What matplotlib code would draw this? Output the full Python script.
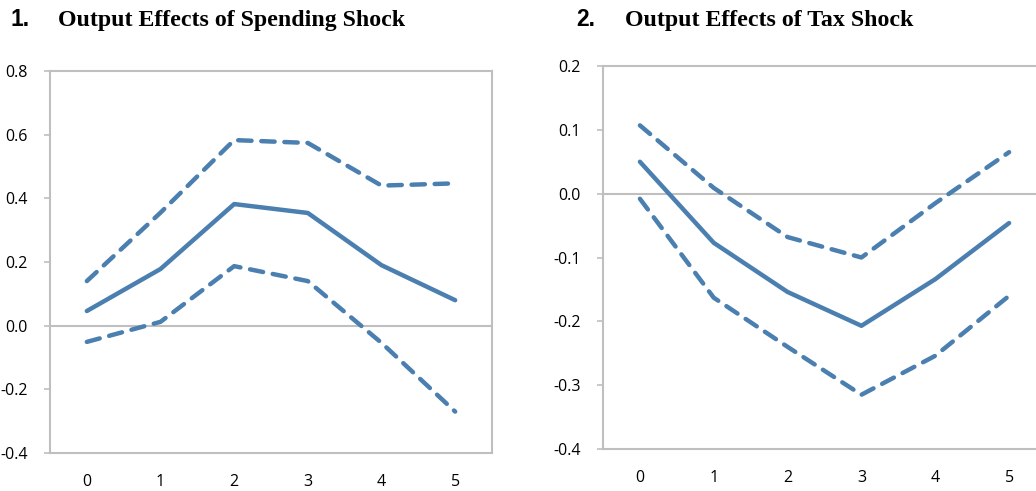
import matplotlib.pyplot as plt

# ---------------------------------------------------
# Daten (Impulsantworten, Punktschätzung und Bänder)
# ---------------------------------------------------
horizon = [0, 1, 2, 3, 4, 5]

spend_mid = [0.046, 0.178, 0.382, 0.354, 0.190, 0.080]
spend_upper = [0.140, 0.355, 0.583, 0.574, 0.440, 0.447]
spend_lower = [-0.051, 0.012, 0.187, 0.140, -0.054, -0.270]

tax_mid = [0.050, -0.077, -0.154, -0.207, -0.134, -0.046]
tax_upper = [0.107, 0.009, -0.068, -0.100, -0.015, 0.065]
tax_lower = [-0.008, -0.163, -0.240, -0.315, -0.254, -0.160]

spend_ticks = [-0.4, -0.2, 0.0, 0.2, 0.4, 0.6, 0.8]
tax_ticks = [-0.4, -0.3, -0.2, -0.1, 0.0, 0.1, 0.2]

titles = ["Output Effects of Spending Shock", "Output Effects of Tax Shock"]
numbers = ["1.", "2."]

LINE_COLOR = "#4a7fb0"
GRAY = "#bfbfbf"

plt.rcParams["font.family"] = ["Open Sans", "DejaVu Sans"]

fig = plt.figure(figsize=(10.36, 4.91), dpi=100)
W, H = 1036, 491


def panel(left_px, right_px, top_px, bottom_px, mid, upper, lower, ticks):
    ax = fig.add_axes([left_px / W, 1 - bottom_px / H,
                       (right_px - left_px) / W, (bottom_px - top_px) / H])
    ax.plot(horizon, mid, color=LINE_COLOR, lw=3.2, solid_capstyle="round")
    for band in (upper, lower):
        ax.plot(horizon, band, color=LINE_COLOR, lw=3.2,
                dashes=(3.0, 2.2), dash_capstyle="round")
    ax.axhline(0, color=GRAY, lw=1.5, zorder=0)
    ax.set_xlim(-0.5, 5.5)
    ax.set_ylim(ticks[0], ticks[-1])
    ax.set_xticks(horizon)
    ax.set_yticks(ticks)
    ax.set_yticklabels([f"{t:.1f}" for t in ticks])
    for s in ax.spines.values():
        s.set_color(GRAY)
        s.set_linewidth(1.5)
    ax.tick_params(axis="y", direction="out", length=4, width=1.2,
                   color=GRAY, labelsize=11.5, pad=12)
    ax.tick_params(axis="x", length=0, labelsize=11.5, pad=15)
    return ax


panel(50, 492, 71, 453, spend_mid, spend_upper, spend_lower, spend_ticks)
panel(603, 1046, 66, 449, tax_mid, tax_upper, tax_lower, tax_ticks)

# Titel: Nummer in Sans, Text in Serif, gemeinsame Grundlinie
for x_num, x_txt, num, title in zip([10, 576], [58, 625], numbers, titles):
    fig.text(x_num / W, 1 - 26 / H, num, fontsize=16.5, fontweight="bold",
             family=["Liberation Sans"], va="baseline", ha="left")
    fig.text(x_txt / W, 1 - 26 / H, title, fontsize=17.2, fontweight="bold",
             family=["Liberation Serif"], va="baseline", ha="left")

fig.savefig("out.png", dpi=100)
